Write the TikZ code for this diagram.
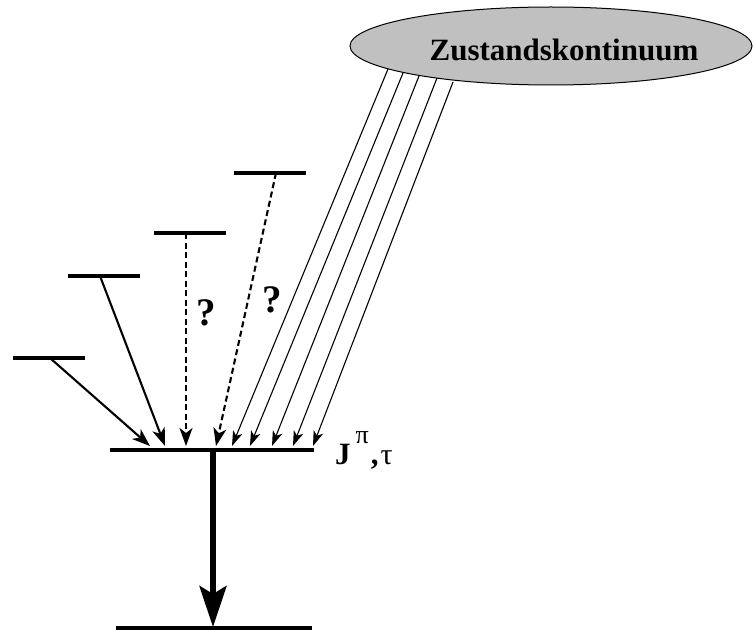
\documentclass[tikz,border=0pt]{standalone}
\usepackage{fontspec}
\setmainfont{Liberation Serif}
\usetikzlibrary{arrows.meta,shapes.geometric,positioning}
\definecolor{contgray}{RGB}{192,192,192}
\tikzset{
  level/.style={line width=3.8pt},
  decay/.style={-{Stealth[length=18pt,width=13pt,inset=5pt]}, line width=2.1pt},
  unknown/.style={decay, dash pattern=on 6pt off 3.5pt},
  feed/.style={-{Stealth[length=15pt,width=10pt,inset=4pt]}, line width=1.1pt},
  gamma/.style={-{Stealth[length=41pt,width=27pt,inset=8pt]}, line width=5.5pt},
  bigtext/.style={font=\fontsize{31}{36}\selectfont\bfseries, inner sep=0pt},
  query/.style={font=\fontsize{39}{44}\selectfont\bfseries, inner sep=0pt}
}
\begin{document}
\begin{tikzpicture}[x=1pt,y=-1pt]
        \useasboundingbox (0,0) rectangle (754,631);
        % the continuum of states
        \node[draw, line width=1pt, fill=contgray, ellipse, minimum width=402pt, minimum height=78pt, inner sep=0pt] (cont) at (551,46) {};
        \node[bigtext] (contname) at (564,50) {Zustandskontinuum};
        % the discrete levels
        \coordinate (l1a) at (13,358);  \coordinate (l1b) at (85,358);
        \coordinate (l2a) at (68,276);  \coordinate (l2b) at (140,276);
        \coordinate (l3a) at (154,233); \coordinate (l3b) at (226,233);
        \coordinate (l4a) at (234,173); \coordinate (l4b) at (306,173);
        \draw[level] (l1a) -- (l1b);
        \draw[level] (l2a) -- (l2b);
        \draw[level] (l3a) -- (l3b);
        \draw[level] (l4a) -- (l4b);
        % the level J and the ground level
        \coordinate (ja) at (110,450); \coordinate (jb) at (314,450);
        \coordinate (ga) at (116,628); \coordinate (gb) at (312,628);
        \draw[level] (ja) -- (jb);
        \draw[level] (ga) -- (gb);
        \node[inner sep=0pt, anchor=base west] (jname) at (335,464)
          {\fontsize{31}{34}\selectfont\bfseries J\kern5pt\raisebox{21pt}{\mdseries\fontsize{26}{28}\selectfont π}\kern2pt,\kern2pt\mdseries\fontsize{30}{32}\selectfont τ};
        % known transitions
        \coordinate (s1) at (50,358);  \coordinate (t1) at (150,446);
        \coordinate (s2) at (100,276); \coordinate (t2) at (165,446);
        \draw[decay] (s1) -- (t1);
        \draw[decay] (s2) -- (t2);
        % unknown transitions
        \coordinate (s3) at (186,233); \coordinate (t3) at (186,446);
        \coordinate (s4) at (276,173); \coordinate (t4) at (216,446);
        \node[query] (q1) at (206,313) {?};
        \node[query] (q2) at (272,300) {?};
        \draw[unknown] (s3) -- (t3);
        \draw[unknown] (s4) -- (t4);
        % feeding from the continuum
        \coordinate (c1) at (388,69); \coordinate (e1) at (232,446);
        \coordinate (c2) at (403,73); \coordinate (e2) at (250,446);
        \coordinate (c3) at (419,76); \coordinate (e3) at (272,446);
        \coordinate (c4) at (437,78); \coordinate (e4) at (293,446);
        \coordinate (c5) at (453,82); \coordinate (e5) at (313,446);
        \draw[feed] (c1) -- (e1);
        \draw[feed] (c2) -- (e2);
        \draw[feed] (c3) -- (e3);
        \draw[feed] (c4) -- (e4);
        \draw[feed] (c5) -- (e5);
        % gamma decay to the ground level
        \coordinate (gs) at (213,451); \coordinate (ge) at (213,627);
        \draw[gamma] (gs) -- (ge);
\end{tikzpicture}
\end{document}
